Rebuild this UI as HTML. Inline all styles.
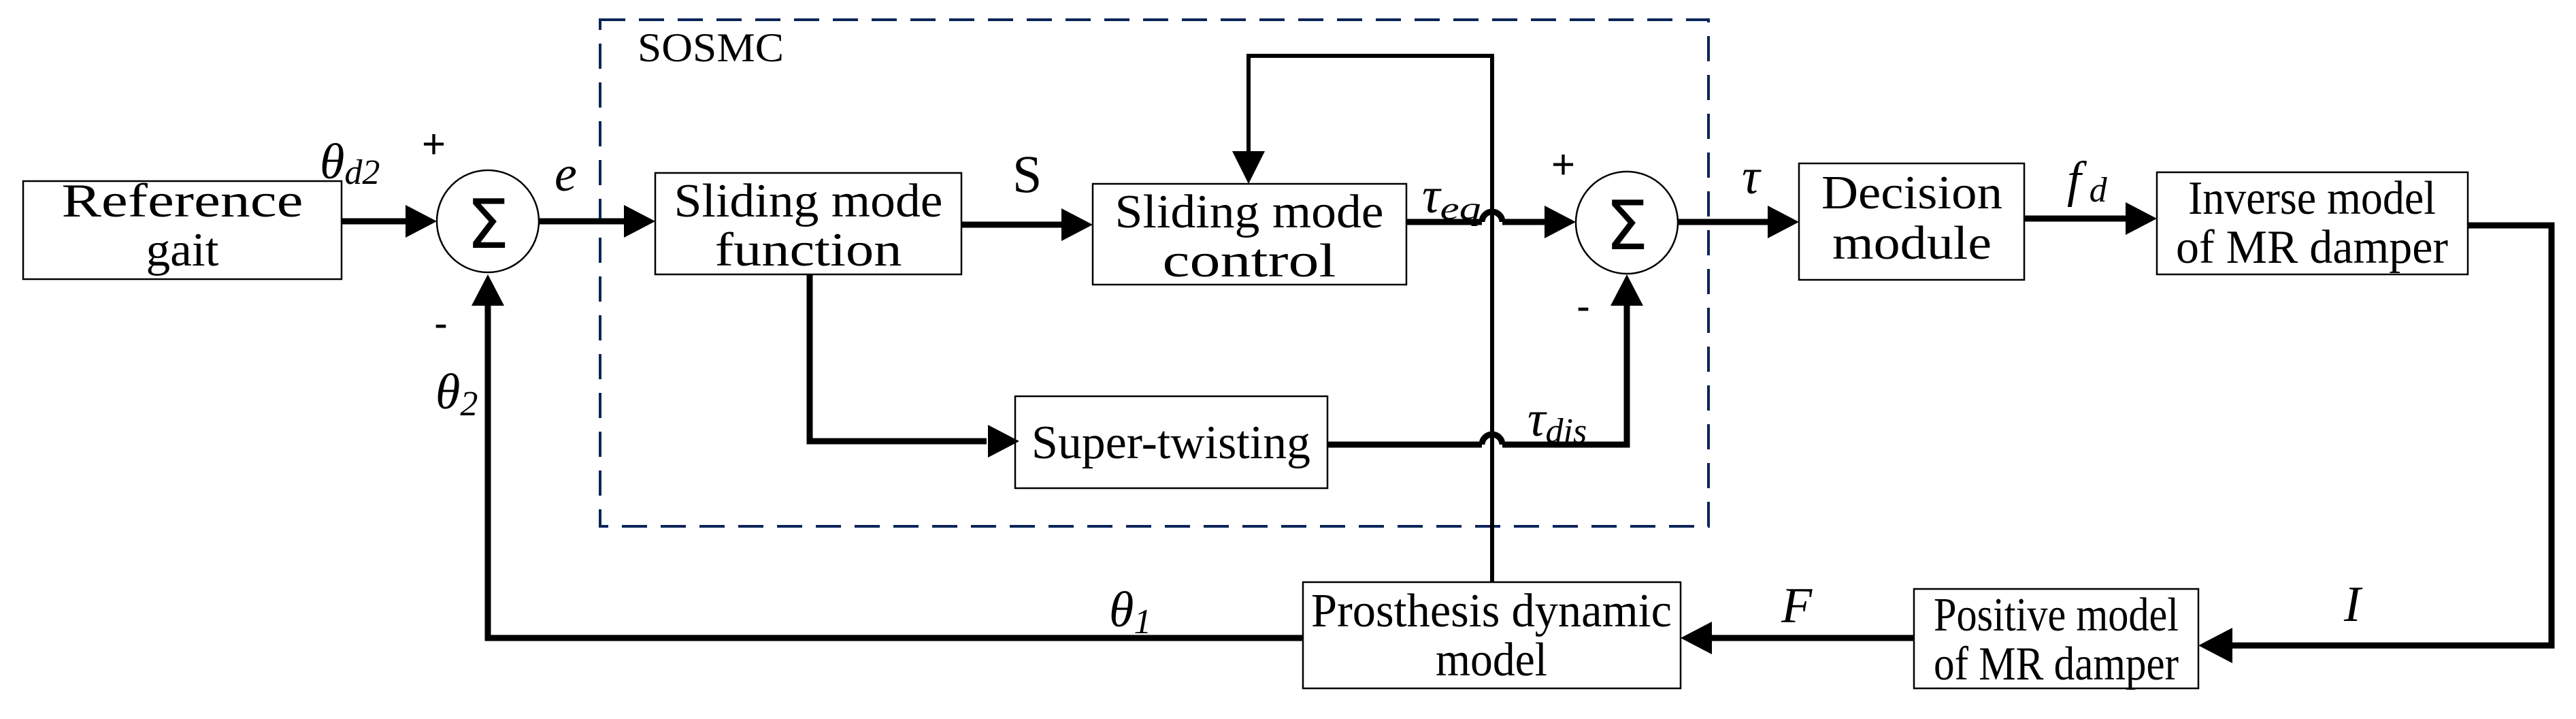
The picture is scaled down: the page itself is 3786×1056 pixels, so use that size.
<!DOCTYPE html>
<html><head><meta charset="utf-8"><style>
html,body{margin:0;padding:0;background:#fff;}
svg{display:block;}
.b{font-size:70px;text-anchor:middle;}
.i{font-style:italic;font-size:74px;}
</style></head><body>
<svg width="3786" height="1056" viewBox="0 0 3786 1056" xmlns="http://www.w3.org/2000/svg" font-family="'Liberation Serif','Times New Roman','DejaVu Serif',serif">
<rect x="882" y="29" width="1629" height="744" fill="none" stroke="#0b2558" stroke-width="4" stroke-dasharray="37,20"/>
<text x="937" y="90" font-size="60" textLength="215" lengthAdjust="spacingAndGlyphs">SOSMC</text>

<g fill="#fff" stroke="#000" stroke-width="2.5">
<rect x="34" y="266" width="468" height="144"/>
<rect x="963" y="254" width="450" height="149"/>
<rect x="1606" y="270" width="461" height="148"/>
<rect x="1492" y="582" width="459" height="135"/>
<rect x="2644" y="240" width="331" height="171"/>
<rect x="3170" y="253" width="457" height="150"/>
<rect x="2813" y="865" width="418" height="146"/>
<rect x="1915" y="855" width="555" height="156"/>
<circle cx="717" cy="325" r="75"/>
<circle cx="2391" cy="327" r="75"/>
</g>

<g stroke="#000" stroke-width="9" fill="none">
<line x1="502" y1="325" x2="600" y2="325"/>
<line x1="792" y1="325" x2="920" y2="325"/>
<line x1="1413" y1="330" x2="1565" y2="330"/>
<polyline points="1190,403 1190,648 1450,648"/>
<polyline points="2067,326 2178,326"/>
<path d="M2178,326 A15,15 0 0 1 2208,326"/>
<line x1="2208" y1="326" x2="2275" y2="326"/>
<polyline points="1951,653 2178,653"/>
<path d="M2178,653 A15,15 0 0 1 2208,653"/>
<polyline points="2208,653 2391,653 2391,445"/>
<line x1="2466" y1="326" x2="2600" y2="326"/>
<line x1="2975" y1="321" x2="3125" y2="321"/>
<polyline points="3627,331 3750,331 3750,948 3280,948"/>
<line x1="2813" y1="937" x2="2515" y2="937"/>
<polyline points="1915,937 717,937 717,445"/>
</g>
<g stroke="#000" stroke-width="6" fill="none">
<polyline points="2193,855 2193,82 1835,82 1835,225"/>
</g>
<g fill="#000">
<polygon points="642,325 596,301 596,349"/>
<polygon points="963,325 917,301 917,349"/>
<polygon points="1606,330 1560,306 1560,354"/>
<polygon points="1498,648 1452,624 1452,672"/>
<polygon points="1835,270 1811,222 1859,222"/>
<polygon points="2316,326 2270,302 2270,350"/>
<polygon points="2391,403 2367,449 2415,449"/>
<polygon points="2644,326 2598,302 2598,350"/>
<polygon points="3170,321 3124,297 3124,345"/>
<polygon points="3231,948 3281,922 3281,974"/>
<polygon points="2470,937 2516,913 2516,961"/>
<polygon points="717,403 693,449 741,449"/>
</g>

<text x="717" y="364" font-family="'DejaVu Sans',sans-serif" font-size="100" text-anchor="middle">Σ</text>
<text x="2391" y="366" font-family="'DejaVu Sans',sans-serif" font-size="100" text-anchor="middle">Σ</text>

<g font-family="'Liberation Serif','Times New Roman',serif">
<text class="b" x="268" y="318" textLength="355" lengthAdjust="spacingAndGlyphs">Reference</text>
<text class="b" x="268" y="390" textLength="107" lengthAdjust="spacingAndGlyphs">gait</text>
<text class="b" x="1188" y="318" textLength="395" lengthAdjust="spacingAndGlyphs">Sliding mode</text>
<text class="b" x="1188" y="390" textLength="275" lengthAdjust="spacingAndGlyphs">function</text>
<text class="b" x="1836" y="334" textLength="395" lengthAdjust="spacingAndGlyphs">Sliding mode</text>
<text class="b" x="1836" y="406" textLength="255" lengthAdjust="spacingAndGlyphs">control</text>
<text class="b" x="1721" y="673" textLength="410" lengthAdjust="spacingAndGlyphs">Super-twisting</text>
<text class="b" x="2810" y="306" textLength="266" lengthAdjust="spacingAndGlyphs">Decision</text>
<text class="b" x="2810" y="380" textLength="234" lengthAdjust="spacingAndGlyphs">module</text>
<text class="b" x="3398" y="314" textLength="364" lengthAdjust="spacingAndGlyphs">Inverse model</text>
<text class="b" x="3398" y="386" textLength="400" lengthAdjust="spacingAndGlyphs">of MR damper</text>
<text class="b" x="3022" y="926" textLength="360" lengthAdjust="spacingAndGlyphs">Positive model</text>
<text class="b" x="3022" y="998" textLength="360" lengthAdjust="spacingAndGlyphs">of MR damper</text>
<text class="b" x="2192" y="920" textLength="530" lengthAdjust="spacingAndGlyphs">Prosthesis dynamic</text>
<text class="b" x="2192" y="992" textLength="164" lengthAdjust="spacingAndGlyphs">model</text>
<text x="1488" y="282" font-size="78">S</text>
<text class="i" x="470" y="262">θ<tspan font-size="52" dy="8">d2</tspan></text>
<text class="i" x="815" y="280">e</text>
<text class="i" x="640" y="600">θ<tspan font-size="52" dy="10">2</tspan></text>
<text class="i" x="2090" y="312">τ<tspan font-size="48" dy="10" textLength="60" lengthAdjust="spacingAndGlyphs">eq</tspan></text>
<text class="i" x="2245" y="640">τ<tspan font-size="52" dy="10">dis</tspan></text>
<text class="i" x="2560" y="284">τ</text>
<text class="i" x="3038" y="288">f<tspan font-size="52" dx="12" dy="8">d</tspan></text>
<text class="i" x="3445" y="912">I</text>
<text class="i" x="2618" y="914">F</text>
<text class="i" x="1630" y="920">θ<tspan font-size="52" dy="10">1</tspan></text>
</g>
<g font-family="'Liberation Sans',sans-serif" font-size="60">
<text x="620" y="232">+</text>
<text x="638" y="495">-</text>
<text x="2280" y="262">+</text>
<text x="2317" y="470">-</text>
</g>
</svg>
</body></html>
